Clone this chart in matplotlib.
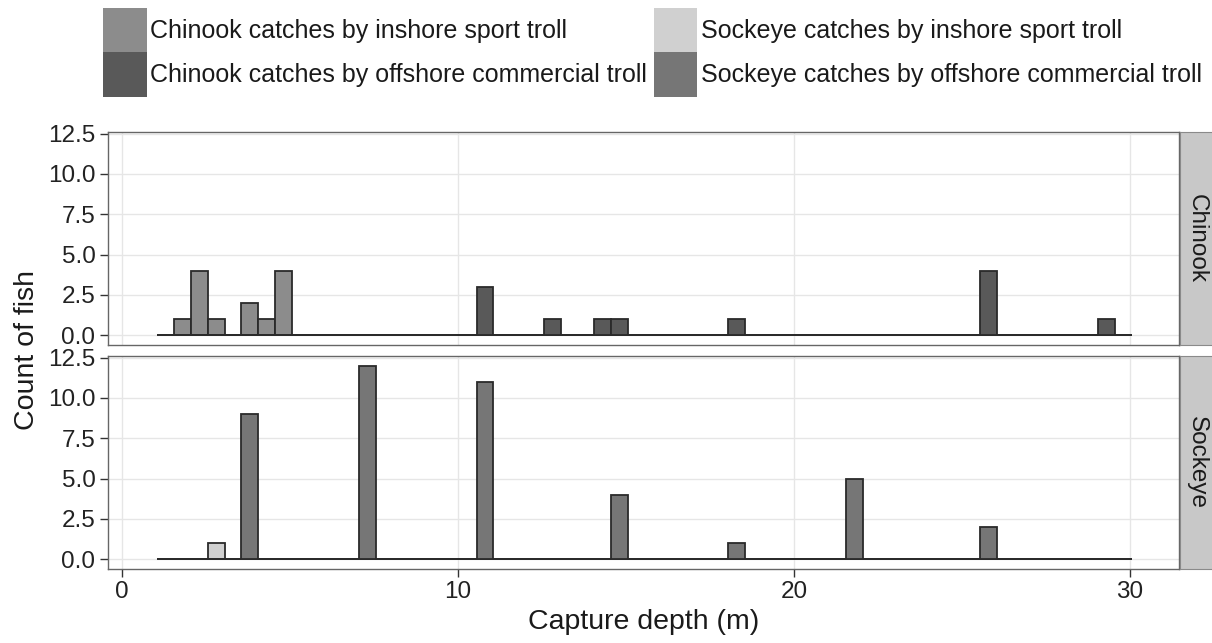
import numpy as np
import matplotlib.pyplot as plt
from matplotlib.patches import Patch

plt.rcParams['font.family'] = ['Liberation Sans', 'DejaVu Sans']

# depth (m, bin centre) and number of fish
chinook_inshore_depth = [1.8, 2.3, 2.8, 3.8, 4.3, 4.8]
chinook_inshore_count = [1, 4, 1, 2, 1, 4]
chinook_offshore_depth = [10.8, 12.8, 14.3, 14.8, 18.3, 25.8, 29.3]
chinook_offshore_count = [3, 1, 1, 1, 1, 4, 1]
sockeye_inshore_depth = [2.8]
sockeye_inshore_count = [1]
sockeye_offshore_depth = [3.8, 7.3, 10.8, 14.8, 18.3, 21.8, 25.8]
sockeye_offshore_count = [9, 12, 11, 4, 1, 5, 2]

species = ['Chinook', 'Sockeye']
legend_labels = ['Chinook catches by inshore sport troll',
                 'Chinook catches by offshore commercial troll',
                 'Sockeye catches by inshore sport troll',
                 'Sockeye catches by offshore commercial troll']
fill_colors = ['#8c8c8c', '#595959', '#d0d0d0', '#767676']

# 0.5 m bins over the sampled depth range
bins = np.arange(1.05, 30.06, 0.5)

W, H = 1212, 643
fig = plt.figure(figsize=(W / 100, H / 100), dpi=100)

left, right = 108 / W, 1179 / W
ax1 = fig.add_axes([left, 1 - 345 / H, right - left, 213 / H])
ax2 = fig.add_axes([left, 1 - 569 / H, right - left, 213 / H], sharex=ax1)

panel_data = [
    [(chinook_inshore_depth, chinook_inshore_count, fill_colors[0]),
     (chinook_offshore_depth, chinook_offshore_count, fill_colors[1])],
    [(sockeye_inshore_depth, sockeye_inshore_count, fill_colors[2]),
     (sockeye_offshore_depth, sockeye_offshore_count, fill_colors[3])],
]

for ax, groups, name in zip([ax1, ax2], panel_data, species):
    for depth, count, col in groups:
        ax.hist(depth, bins=bins, weights=count, color=col,
                edgecolor='#2a2a2a', linewidth=1.3, zorder=3)
    ax.set_xlim(-0.42, 31.46)
    ax.set_ylim(-0.6, 12.6)
    ax.set_yticks([0, 2.5, 5, 7.5, 10, 12.5])
    ax.set_yticklabels(['0.0', '2.5', '5.0', '7.5', '10.0', '12.5'])
    ax.set_xticks([0, 10, 20, 30])
    ax.grid(True, color='#e6e6e6', linewidth=1.0, zorder=0)
    ax.set_axisbelow(True)
    for sp in ax.spines.values():
        sp.set_color('#666666')
        sp.set_linewidth(1.0)
    ax.tick_params(length=6, width=1, color='#333333', labelsize=17.5,
                   labelcolor='#222222', pad=3)

    # facet strip on the right
    pos = ax.get_position()
    sax = fig.add_axes([pos.x1 + 1 / W, pos.y0, 33 / W, pos.height])
    sax.set_facecolor('#c8c8c8')
    sax.set_xticks([])
    sax.set_yticks([])
    for sp in sax.spines.values():
        sp.set_color('#8a8a8a')
    sax.text(0.5, 0.5, name, rotation=270, ha='center', va='center',
             fontsize=17.5, color='#1a1a1a', transform=sax.transAxes)

ax1.tick_params(axis='x', bottom=False, labelbottom=False)

fig.text(27 / W, 1 - 350 / H, 'Count of fish', rotation=90,
         ha='center', va='center', fontsize=20.5, color='#1a1a1a')
ax2.set_xlabel('Capture depth (m)', fontsize=20.5, color='#1a1a1a', labelpad=4)

handles = [Patch(facecolor=c, edgecolor='none') for c in fill_colors]
fig.legend(handles, legend_labels, ncol=2, loc='upper left',
           bbox_to_anchor=(103 / W, 1 - 8 / H), frameon=False,
           fontsize=18, handlelength=1.75, handleheight=2.35,
           handletextpad=0.15, labelspacing=0, columnspacing=0.25,
           borderpad=0, borderaxespad=0, labelcolor='#1a1a1a')

fig.savefig('out.png', dpi=100)
